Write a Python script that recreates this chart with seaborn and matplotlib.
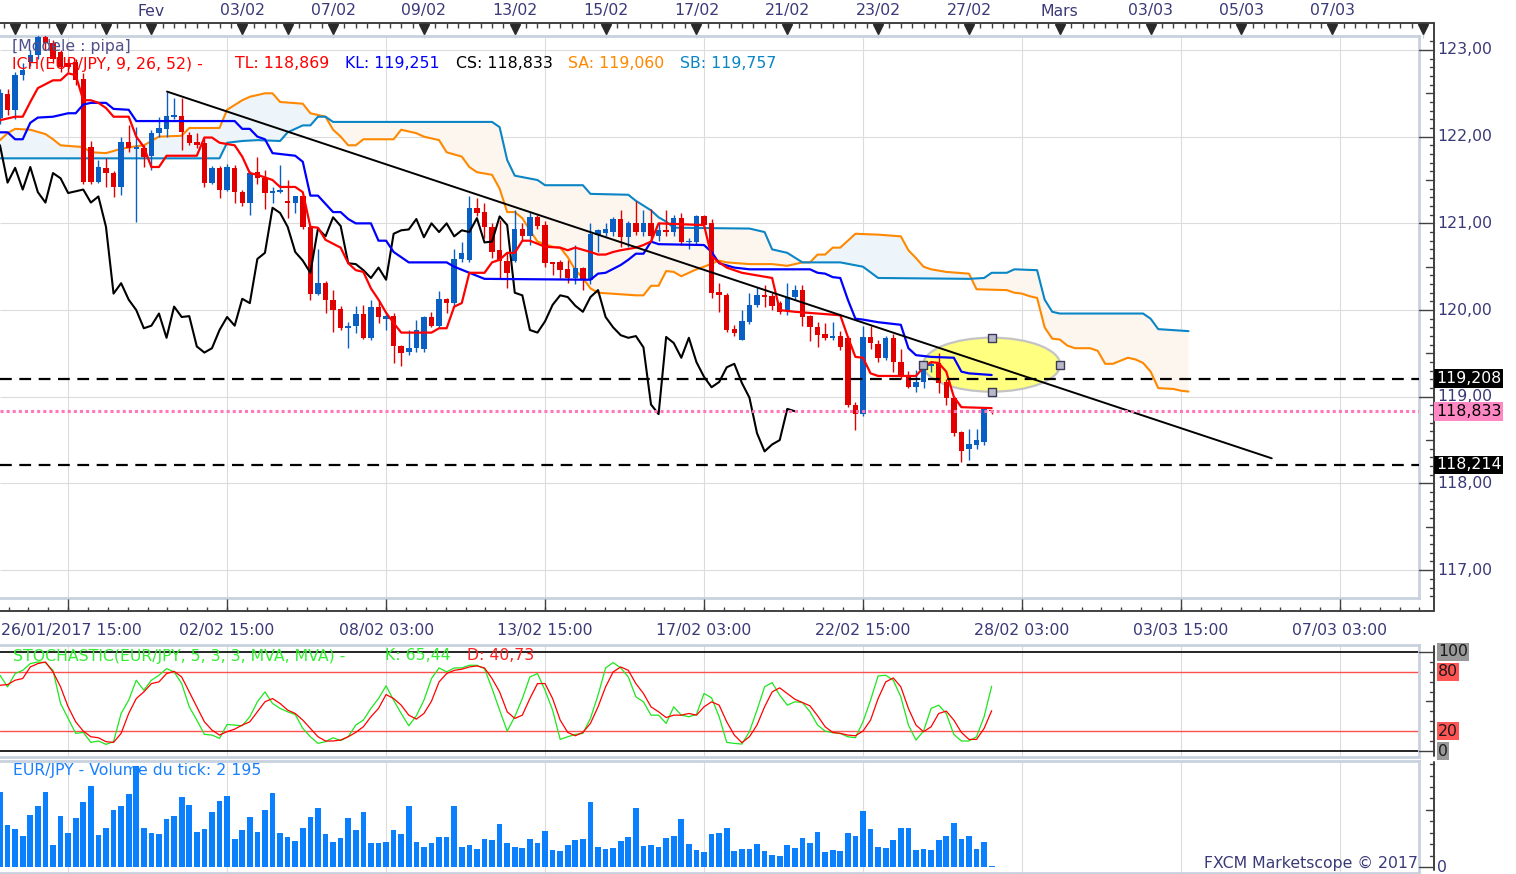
import numpy as np
import matplotlib
matplotlib.use('Agg')
import matplotlib.pyplot as plt
import seaborn as sns
from matplotlib.patches import Ellipse
from matplotlib.transforms import blended_transform_factory

# ---- données (EUR/JPY, bougies 4h) ----
bar_open = [122.22, 122.49, 122.31, 122.71, 122.86, 122.94, 123.15, 123.08, 122.98, 122.85,
            122.86, 122.67, 121.88, 121.48, 121.64, 121.58, 121.42, 121.94, 121.86, 121.87,
            121.78, 122.04, 122.09, 122.23, 122.24, 122.02, 121.94, 121.93, 121.47, 121.64,
            121.39, 121.64, 121.36, 121.24, 121.59, 121.52, 121.35, 121.36, 121.25, 121.24,
            121.31, 120.96, 120.19, 120.31, 120.12, 120.01, 119.79, 119.82, 119.96, 119.68,
            120.03, 119.90, 119.93, 119.58, 119.52, 119.56, 119.55, 119.92, 119.82, 120.13,
            120.08, 120.59, 120.58, 121.18, 121.13, 120.96, 120.69, 120.57, 120.57, 120.94,
            120.85, 121.07, 120.98, 120.55, 120.55, 120.47, 120.37, 120.48, 120.35, 120.87,
            120.89, 120.90, 121.05, 120.84, 121.00, 120.90, 121.00, 120.85, 120.92, 120.90,
            121.06, 120.78, 120.78, 121.08, 121.00, 120.21, 120.17, 119.78, 119.66, 119.86,
            120.06, 120.17, 120.16, 120.08, 119.99, 120.15, 120.23, 119.93, 119.81, 119.72,
            119.68, 119.70, 119.68, 118.91, 118.80, 119.69, 119.61, 119.45, 119.68, 119.40,
            119.25, 119.11, 119.17, 119.35, 119.39, 119.17, 118.99, 118.59, 118.40, 118.44,
            118.48, 118.84]
bar_high = [122.55, 122.55, 122.75, 122.85, 123.00, 123.20, 123.20, 123.12, 123.00, 122.90,
            122.90, 122.73, 121.95, 121.73, 121.75, 121.60, 122.00, 122.13, 122.11, 121.90,
            122.08, 122.23, 122.52, 122.45, 122.45, 122.05, 122.04, 121.99, 121.66, 121.66,
            121.68, 121.67, 121.38, 121.60, 121.77, 121.62, 121.42, 121.67, 121.50, 121.31,
            121.33, 120.98, 120.70, 120.33, 120.23, 120.05, 119.86, 120.05, 120.06, 120.12,
            120.10, 119.98, 119.97, 119.60, 119.77, 119.88, 119.93, 119.98, 120.22, 120.14,
            120.71, 120.79, 121.32, 121.29, 121.24, 121.00, 121.04, 120.67, 121.15, 121.00,
            121.13, 121.10, 121.03, 120.56, 120.58, 120.58, 120.75, 120.50, 121.00, 120.94,
            121.00, 121.07, 121.15, 121.03, 121.26, 121.15, 121.16, 121.00, 121.15, 121.10,
            121.12, 120.83, 121.10, 121.10, 121.05, 120.31, 120.20, 119.83, 120.00, 120.20,
            120.27, 120.29, 120.20, 120.10, 120.31, 120.29, 120.29, 119.94, 119.86, 119.85,
            119.86, 119.76, 119.70, 118.94, 119.82, 119.82, 119.65, 119.70, 119.72, 119.55,
            119.30, 119.31, 119.40, 119.40, 119.50, 119.20, 119.00, 118.60, 118.63, 118.63,
            118.88, 118.85]
bar_low = [122.15, 122.25, 122.20, 122.65, 122.82, 122.90, 123.00, 122.85, 122.75, 122.75,
           122.60, 121.45, 121.45, 121.47, 121.42, 121.30, 121.33, 121.82, 121.02, 121.65,
           121.62, 122.00, 122.00, 122.20, 121.85, 121.90, 121.87, 121.42, 121.45, 121.29,
           121.37, 121.24, 121.20, 121.10, 121.45, 121.17, 121.24, 121.35, 121.06, 121.12,
           120.93, 120.12, 120.17, 119.97, 119.75, 119.77, 119.56, 119.73, 119.67, 119.66,
           119.85, 119.77, 119.39, 119.36, 119.48, 119.52, 119.52, 119.80, 119.79, 119.97,
           120.05, 120.55, 120.55, 121.08, 120.83, 120.60, 120.36, 120.25, 120.55, 120.80,
           120.75, 120.93, 120.50, 120.40, 120.37, 120.31, 120.30, 120.23, 120.30, 120.67,
           120.85, 120.85, 120.73, 120.73, 120.87, 120.85, 120.80, 120.80, 120.85, 120.85,
           120.75, 120.70, 120.75, 120.95, 120.14, 119.98, 119.75, 119.70, 119.65, 119.84,
           120.03, 120.03, 120.00, 119.96, 119.94, 120.12, 119.82, 119.64, 119.57, 119.66,
           119.66, 119.54, 118.88, 118.62, 118.78, 119.55, 119.40, 119.42, 119.28, 119.20,
           119.10, 119.06, 119.10, 119.29, 119.04, 118.91, 118.55, 118.25, 118.27, 118.40,
           118.44, 118.80]
bar_close = [122.50, 122.31, 122.71, 122.77, 122.94, 123.15, 123.08, 122.90, 122.80, 122.80,
             122.65, 121.48, 121.48, 121.65, 121.58, 121.42, 121.94, 121.87, 121.88, 121.77,
             122.04, 122.10, 122.24, 122.25, 122.05, 121.93, 121.90, 121.47, 121.64, 121.39,
             121.65, 121.36, 121.24, 121.58, 121.52, 121.35, 121.37, 121.39, 121.24, 121.31,
             120.96, 120.19, 120.31, 120.12, 120.00, 119.79, 119.82, 119.96, 119.68, 120.04,
             119.92, 119.93, 119.58, 119.51, 119.56, 119.77, 119.92, 119.82, 120.13, 120.08,
             120.59, 120.66, 121.18, 121.12, 120.96, 120.67, 120.57, 120.43, 120.94, 120.85,
             121.07, 120.97, 120.54, 120.53, 120.46, 120.37, 120.49, 120.35, 120.88, 120.92,
             120.93, 121.05, 120.84, 121.00, 120.90, 121.00, 120.85, 120.92, 120.90, 121.06,
             120.78, 120.79, 121.08, 120.98, 120.20, 120.17, 119.77, 119.74, 119.87, 120.06,
             120.17, 120.15, 120.05, 119.98, 120.15, 120.23, 119.92, 119.80, 119.71, 119.68,
             119.70, 119.57, 118.91, 118.80, 119.69, 119.62, 119.45, 119.68, 119.40, 119.23,
             119.11, 119.17, 119.34, 119.38, 119.16, 118.99, 118.58, 118.37, 118.45, 118.50,
             118.86, 118.833]

# Ichimoku : sommets des lignes (indice de bougie, prix)
tenkan_x = [0, 2, 3, 4, 5, 7, 8, 9, 10, 11, 12, 13, 14, 15, 17, 18, 19, 20, 21, 22, 26, 27, 28, 29, 31,
            32, 33, 34, 36, 37, 39, 40, 41, 42, 43, 45, 46, 47, 48, 49, 50, 51, 52, 53, 57, 58, 59, 60,
            61, 62, 64, 65, 66, 67, 68, 69, 70, 72, 74, 75, 76, 78, 79, 80, 81, 82, 84, 85, 86, 87, 93,
            94, 95, 96, 98, 102, 103, 105, 108, 111, 112, 113, 114, 115, 116, 121, 122, 123, 124, 125,
            126, 127, 131]
tenkan_y = [122.19, 122.23, 122.23, 122.40, 122.56, 122.65, 122.65, 122.73, 122.71, 122.42,
            122.42, 122.39, 122.33, 122.23, 122.23, 122.00, 121.88, 121.65, 121.65, 121.78,
            121.78, 121.99, 121.99, 121.93, 121.90, 121.77, 121.58, 121.56, 121.50, 121.42,
            121.42, 121.36, 120.96, 120.95, 120.81, 120.72, 120.54, 120.46, 120.44, 120.25,
            120.12, 119.97, 119.85, 119.74, 119.74, 119.79, 119.79, 120.04, 120.08, 120.43,
            120.43, 120.55, 120.58, 120.66, 120.66, 120.80, 120.80, 120.73, 120.72, 120.69,
            120.72, 120.67, 120.64, 120.64, 120.67, 120.69, 120.72, 120.75, 120.79, 121.00,
            120.98, 120.62, 120.55, 120.49, 120.43, 120.37, 120.00, 119.98, 119.96, 119.94,
            119.69, 119.46, 119.45, 119.27, 119.24, 119.24, 119.34, 119.40, 119.39, 119.29,
            119.00, 118.88, 118.869]
kijun_x = [0, 1, 2, 3, 4, 5, 7, 8, 9, 10, 11, 12, 14, 15, 17, 18, 31, 32, 33, 34, 35, 36, 39, 40, 41,
           42, 44, 45, 46, 47, 49, 50, 51, 52, 54, 59, 60, 62, 64, 78, 79, 80, 82, 83, 84, 85, 86, 87,
           93, 94, 95, 97, 99, 107, 108, 109, 110, 111, 112, 113, 114, 116, 119, 120, 121, 123, 126,
           127, 128, 131]
kijun_y = [122.05, 122.05, 121.97, 121.97, 122.16, 122.22, 122.23, 122.25, 122.27, 122.27,
           122.37, 122.39, 122.39, 122.32, 122.31, 122.18, 122.18, 122.09, 122.09, 122.00,
           121.97, 121.81, 121.78, 121.71, 121.32, 121.32, 121.13, 121.13, 121.05, 121.00,
           121.00, 120.80, 120.80, 120.67, 120.55, 120.55, 120.50, 120.43, 120.36, 120.35,
           120.42, 120.43, 120.52, 120.58, 120.65, 120.65, 120.79, 120.76, 120.75, 120.67,
           120.54, 120.49, 120.47, 120.47, 120.43, 120.42, 120.38, 120.37, 120.12, 119.90,
           119.89, 119.86, 119.83, 119.56, 119.48, 119.46, 119.45, 119.29, 119.27, 119.251]
ssa_x = [0, 1, 2, 4, 6, 7, 8, 11, 12, 14, 16, 18, 19, 21, 24, 25, 29, 30, 32, 33, 34, 35, 36, 37, 40,
         41, 43, 44, 45, 46, 47, 48, 52, 53, 55, 56, 58, 59, 61, 62, 63, 65, 66, 67, 68, 69, 70, 71,
         73, 74, 75, 76, 77, 78, 79, 84, 85, 86, 87, 88, 89, 90, 92, 93, 95, 96, 99, 102, 104, 106,
         107, 108, 109, 110, 111, 113, 116, 119, 120, 121, 122, 123, 125, 128, 129, 133, 134, 135,
         136, 137, 138, 139, 140, 141, 142, 144, 145, 146, 147, 149, 150, 151, 152, 153, 155, 156, 157]
ssa_y = [121.96, 122.04, 122.09, 122.08, 122.03, 121.97, 121.90, 121.88, 121.82, 121.81,
         121.86, 121.89, 121.90, 122.00, 122.01, 122.10, 122.10, 122.31, 122.42, 122.46,
         122.48, 122.50, 122.50, 122.40, 122.38, 122.27, 122.23, 122.08, 122.00, 121.90,
         121.90, 121.97, 121.97, 122.08, 122.04, 122.00, 121.96, 121.82, 121.77, 121.65,
         121.59, 121.56, 121.40, 121.13, 121.13, 121.06, 120.92, 120.79, 120.73, 120.72,
         120.61, 120.46, 120.37, 120.25, 120.20, 120.17, 120.17, 120.28, 120.28, 120.45,
         120.44, 120.39, 120.47, 120.50, 120.57, 120.55, 120.53, 120.53, 120.51, 120.55,
         120.55, 120.64, 120.64, 120.72, 120.72, 120.88, 120.87, 120.85, 120.69, 120.60,
         120.50, 120.47, 120.44, 120.42, 120.24, 120.23, 120.20, 120.19, 120.16, 120.14,
         119.80, 119.67, 119.66, 119.59, 119.56, 119.56, 119.53, 119.38, 119.38, 119.45,
         119.43, 119.39, 119.29, 119.10, 119.09, 119.07, 119.06]
ssb_x = [0, 29, 30, 32, 34, 37, 38, 40, 41, 42, 43, 44, 65, 66, 67, 68, 71, 72, 77, 78, 83, 84, 86,
         87, 88, 89, 99, 101, 102, 104, 106, 111, 114, 116, 128, 130, 131, 133, 134, 137, 138, 139,
         140, 151, 152, 153, 157]
ssb_y = [121.75, 121.75, 121.93, 121.95, 121.96, 121.95, 122.05, 122.13, 122.13, 122.23,
         122.23, 122.17, 122.17, 122.11, 121.73, 121.55, 121.50, 121.44, 121.44, 121.34,
         121.33, 121.26, 121.15, 121.07, 121.02, 120.95, 120.94, 120.90, 120.70, 120.66,
         120.55, 120.55, 120.50, 120.37, 120.36, 120.37, 120.43, 120.43, 120.47, 120.46,
         120.12, 119.98, 119.96, 119.96, 119.90, 119.78, 119.757]

# tracés manuels
trend_x = [22.06, 168.0]
trend_y = [122.52, 118.29]
level_high = 119.208
level_low = 118.214
ellipse_center = (131.0, 119.37)
ellipse_size = (18.1, 0.623)

# stochastique et volumes
stoch_k = [76.5, 64.8, 78.2, 81.5, 88.3, 89.9, 89.3, 81.5, 48.0, 32.9,
           17.8, 18.8, 8.7, 10.1, 6.7, 9.4, 37.9, 51.3, 71.5, 61.4,
           71.5, 76.5, 83.2, 79.9, 68.1, 44.6, 31.2, 16.8, 16.1, 12.8,
           26.8, 26.2, 25.5, 34.6, 49.7, 59.7, 48.0, 43.0, 39.6, 36.9,
           22.8, 14.4, 7.7, 9.4, 13.4, 10.5, 14.4, 26.2, 31.2, 43.0,
           53.0, 65.8, 51.3, 37.9, 25.5, 35.6, 51.3, 73.2, 83.9, 79.9,
           83.9, 83.9, 86.6, 86.6, 83.2, 63.1, 41.3, 20.1, 34.6, 53.0,
           74.8, 78.2, 61.4, 41.3, 11.7, 14.4, 16.8, 17.8, 32.9, 56.4,
           83.9, 89.3, 83.9, 74.8, 54.7, 49.7, 36.2, 36.2, 27.9, 44.6,
           36.2, 34.6, 36.9, 58.1, 53.7, 34.6, 8.7, 7.7, 7.0, 19.5,
           41.3, 64.8, 69.1, 56.4, 46.3, 49.7, 49.0, 39.6, 26.2, 20.1,
           18.5, 17.8, 14.4, 13.4, 29.5, 51.3, 75.8, 76.5, 71.5, 54.7,
           26.2, 11.1, 20.1, 43.0, 46.3, 37.9, 16.8, 10.1, 10.1, 14.4,
           34.6, 65.44]
stoch_d = [66.4, 67.1, 71.5, 73.2, 84.9, 88.3, 89.9, 79.9, 64.8, 44.6,
           29.5, 20.1, 14.4, 13.4, 9.4, 8.7, 17.8, 37.9, 53.0, 59.7,
           68.1, 69.8, 78.2, 80.5, 74.8, 59.7, 44.6, 29.5, 21.1, 16.1,
           19.5, 22.1, 26.2, 29.5, 39.6, 49.7, 53.0, 48.0, 41.3, 37.9,
           31.2, 22.8, 14.4, 10.1, 10.1, 11.1, 14.4, 18.8, 24.5, 34.6,
           43.0, 57.0, 53.0, 46.3, 36.2, 32.2, 37.9, 50.3, 69.8, 78.2,
           81.5, 82.6, 84.9, 85.9, 83.9, 73.2, 59.7, 39.6, 32.9, 36.2,
           53.0, 68.1, 68.1, 53.0, 31.2, 18.8, 15.4, 18.8, 27.9, 44.6,
           64.8, 79.9, 84.9, 81.5, 68.1, 58.1, 44.6, 39.6, 33.8, 36.2,
           36.2, 37.9, 36.2, 44.6, 49.7, 46.3, 29.5, 16.1, 8.4, 14.4,
           26.2, 44.6, 59.7, 63.8, 58.1, 52.3, 49.0, 45.6, 35.6, 24.5,
           18.8, 17.8, 16.1, 15.4, 20.1, 31.2, 53.0, 69.8, 73.8, 64.8,
           43.0, 26.2, 19.5, 24.5, 37.9, 40.3, 31.2, 18.8, 11.7, 11.7,
           22.8, 40.73]
volume = [157500, 87500, 79100, 64400, 108500, 127400, 157500, 45500, 106400, 70700,
          102200, 135800, 169400, 66500, 81200, 119000, 127400, 152600, 212100, 81200,
          70700, 68600, 100100, 106400, 146300, 129500, 72800, 79100, 114800, 137900,
          148400, 58100, 77000, 104300, 72800, 119000, 154700, 70700, 62300, 53900,
          81200, 104300, 123200, 68600, 51800, 60200, 102200, 77000, 114800, 49700,
          49700, 51800, 77000, 68600, 127400, 51800, 41300, 49700, 62300, 62300,
          127400, 41300, 45500, 37100, 58100, 56000, 89600, 49700, 41300, 39200,
          58100, 49700, 74900, 35000, 32900, 45500, 56000, 58100, 135800, 41300,
          37100, 39200, 53900, 62300, 123200, 43400, 45500, 41300, 60200, 64400,
          100100, 47600, 35000, 30800, 68600, 70700, 81200, 32900, 37100, 37100,
          47600, 32900, 24500, 22400, 45500, 39200, 60200, 49700, 72800, 30800,
          35000, 32900, 70700, 64400, 116900, 79100, 41300, 39200, 56000, 81200,
          81200, 35000, 37100, 35000, 56000, 64400, 91700, 58100, 64400, 37100,
          51800, 2195]

# axes de temps
top_marks = [2, 8, 14, 20, 32, 38, 44, 56, 68, 80, 92, 104, 116, 128, 140, 152, 164, 176, 188]
top_labels = {20: 'Fev', 32: '03/02', 44: '07/02', 56: '09/02', 68: '13/02', 80: '15/02',
              92: '17/02', 104: '21/02', 116: '23/02', 128: '27/02', 140: 'Mars',
              152: '03/03', 164: '05/03', 176: '07/03'}
bottom_marks = [9, 30, 51, 72, 93, 114, 135, 156, 177]
bottom_labels = ['26/01/2017 15:00', '02/02 15:00', '08/02 03:00', '13/02 15:00', '17/02 03:00',
                 '22/02 15:00', '28/02 03:00', '03/03 15:00', '07/03 03:00']

# ---- style ----
sns.set_theme(style='white')
plt.rcParams['font.family'] = ['DejaVu Sans']

W, H = 1516, 874
FS = 11.3
UP = '#0a5fc4'
DOWN = '#e00000'
TXT = '#3a3a78'
GRID = '#dcdcdc'
FRAME = '#c8d2de'
AXLINE = '#404040'
ORANGE = '#ff8800'
TEAL = '#0a85c5'

def fmt(v, d):
    return f"{v:.{d}f}".replace('.', ',')

def px_rect(x0, y0, x1, y1):
    return [x0 / W, 1 - y1 / H, (x1 - x0) / W, (y1 - y0) / H]

fig = plt.figure(figsize=(W / 100, H / 100), dpi=100, facecolor='white')
ax = fig.add_axes(px_rect(0, 36, 1419, 598))
axs = fig.add_axes(px_rect(0, 645, 1419, 757))
axv = fig.add_axes(px_rect(0, 761, 1419, 873))
ov = fig.add_axes([0, 0, 1, 1], zorder=10)
ov.set_autoscale_on(False)
ov.set_xlim(0, W)
ov.set_ylim(H, 0)
ov.axis('off')

XMAX = 1419 / 7.57
idx = np.arange(len(bar_close))
o = np.array(bar_open)
h = np.array(bar_high)
l = np.array(bar_low)
c = np.array(bar_close)

for a in (ax, axs, axv):
    a.set_xlim(0, XMAX)
    a.set_facecolor('white')
    a.spines['left'].set_visible(False)
    for s in ('top', 'right', 'bottom'):
        a.spines[s].set_color(FRAME)
        a.spines[s].set_linewidth(2)

ax.set_ylim(116.679, 123.161)
axs.set_ylim(-6.06, 107.07)
axv.set_ylim(-12600, 222600)

# ---- panneau principal ----
ax.hlines(range(117, 124), 0, XMAX, color=GRID, lw=0.8, zorder=0)
ax.vlines(bottom_marks, 116.679, 123.161, color=GRID, lw=0.8, zorder=0)

# nuage
gx = np.linspace(0, ssa_x[-1], 3000)
ga = np.interp(gx, ssa_x, ssa_y)
gb = np.interp(gx, ssb_x, ssb_y)
ax.fill_between(gx, ga, gb, where=ga >= gb, color='#eef5fa', interpolate=True, lw=0, zorder=1)
ax.fill_between(gx, ga, gb, where=ga < gb, color='#fdf6ee', interpolate=True, lw=0, zorder=1)
sns.lineplot(x=ssa_x, y=ssa_y, color=ORANGE, linewidth=1.5, estimator=None, sort=False, ax=ax, zorder=2)
sns.lineplot(x=ssb_x, y=ssb_y, color=TEAL, linewidth=1.5, estimator=None, sort=False, ax=ax, zorder=2)

ell = Ellipse(ellipse_center, ellipse_size[0], ellipse_size[1], fc='#ffff80', ec='#c4c4c4',
              lw=1.6, zorder=2.5)
ax.add_patch(ell)

# bougies
up = c >= o
cols = np.where(up, UP, DOWN)
ax.vlines(idx, l, h, colors=cols, lw=1, zorder=3)
ax.bar(idx, np.maximum(np.abs(c - o), 0.014), bottom=np.minimum(o, c), width=0.72,
       color=cols, linewidth=0, zorder=3.1)

sns.lineplot(x=idx - 26, y=c, color='black', linewidth=1.5, estimator=None, sort=False, ax=ax, zorder=4)
sns.lineplot(x=kijun_x, y=kijun_y, color='#0000ff', linewidth=1.6, estimator=None, sort=False, ax=ax, zorder=4)
sns.lineplot(x=tenkan_x, y=tenkan_y, color='#ff0000', linewidth=1.6, estimator=None, sort=False, ax=ax, zorder=4.1)

ax.plot(trend_x, trend_y, color='black', lw=1.4, zorder=5)
ax.axhline(level_high, color='black', lw=1.6, ls=(0, (5.3, 3.4)), zorder=5)
ax.axhline(level_low, color='black', lw=1.6, ls=(0, (5.3, 3.4)), zorder=5)
ax.axhline(c[-1], color='#ff77bb', lw=2.2, ls=(0, (1, 1)), zorder=5)

cx, cy = ellipse_center
ew, eh = ellipse_size
ax.scatter([cx, cx + ew / 2, cx, cx - ew / 2], [cy + eh / 2, cy, cy - eh / 2, cy], marker='s', s=30,
           facecolor='#b8b8c8', edgecolor='#3a3a5a', linewidth=1, zorder=6)

ax.set_xlim(0, XMAX)
ax.set_ylim(116.679, 123.161)

# ---- stochastique ----
axs.vlines(bottom_marks, -6.06, 107.07, color=GRID, lw=0.8, zorder=0)
axs.axhline(100, color='black', lw=1.2, zorder=1)
axs.axhline(0, color='black', lw=1.2, zorder=1)
axs.axhline(80, color='#ff5050', lw=1, zorder=1)
axs.axhline(20, color='#ff5050', lw=1, zorder=1)
sns.lineplot(x=idx, y=stoch_k, color='#1ee61e', linewidth=0.9, estimator=None, sort=False, ax=axs, zorder=3)
sns.lineplot(x=idx, y=stoch_d, color='#ff0000', linewidth=0.9, estimator=None, sort=False, ax=axs, zorder=3)
axs.set_xlim(0, XMAX)
axs.set_ylim(-6.06, 107.07)

# ---- volumes ----
axv.vlines(bottom_marks, -12600, 222600, color=GRID, lw=0.8, zorder=0)
sns.barplot(x=idx, y=volume, native_scale=True, width=0.75, color='#0a80ff', saturation=1,
            errorbar=None, linewidth=0, ax=axv, zorder=2)
axv.set_xlim(0, XMAX)
axv.set_ylim(-12600, 222600)

for a in (ax, axs, axv):
    a.set_xticks([])
    a.set_yticks([])
    a.set_xlabel('')
    a.set_ylabel('')

# ---- axes extérieurs ----
top_tr = blended_transform_factory(ax.transData, ov.transData)
bot_tr = top_tr
r_main = blended_transform_factory(ov.transData, ax.transData)
r_sto = blended_transform_factory(ov.transData, axs.transData)
r_vol = blended_transform_factory(ov.transData, axv.transData)

ov.plot([0, 1434], [23, 23], color=AXLINE, lw=1.4)
ov.plot([1434, 1434], [23, 611], color=AXLINE, lw=1.4)
ov.plot([0, 1434], [611, 611], color=AXLINE, lw=1.4)
ov.plot([1434, 1434], [646, 756], color=AXLINE, lw=1.4)
ov.plot([1434, 1434], [762, 870], color=AXLINE, lw=1.4)

minor_top = np.arange(0.5, 189.5, 1.5)
ov.vlines(minor_top, 23, 28, transform=top_tr, color=AXLINE, lw=1)
ov.vlines(top_marks, 33, 38, transform=top_tr, color='#c8d2de', lw=1)
ov.plot(top_marks, [28.5] * len(top_marks), 'v', ms=7, color='#2a2a2a', transform=top_tr, clip_on=False)
for b, t in top_labels.items():
    ov.text(b, 11, t, transform=top_tr, ha='center', va='center', fontsize=FS, color=TXT)

minor_bot = 9 + 2.625 * np.arange(-3, 69)
minor_bot = minor_bot[minor_bot <= 189.4]
ov.vlines(minor_bot, 607, 611, transform=bot_tr, color=AXLINE, lw=1)
ov.vlines(bottom_marks, 599, 611, transform=bot_tr, color=AXLINE, lw=1)
for k, (b, t) in enumerate(zip(bottom_marks, bottom_labels)):
    if k == 0:
        ov.text(0.1, 630, t, transform=bot_tr, ha='left', va='center', fontsize=FS, color=TXT)
    else:
        ov.text(b, 630, t, transform=bot_tr, ha='center', va='center', fontsize=FS, color=TXT)

# échelle de prix
for p in np.arange(1167, 1232) / 10:
    if abs(p - round(p)) < 1e-6:
        x0 = 1419
    elif abs(p * 2 - round(p * 2)) < 1e-6:
        x0 = 1426
    else:
        x0 = 1430
    ov.plot([x0, 1434], [p, p], color=AXLINE, lw=1, transform=r_main)
for p in range(117, 124):
    ov.text(1437, p, f"{p},00", transform=r_main, ha='left', va='center', fontsize=FS, color=TXT,
            zorder=1)
for lv, fc, tc in [(level_high, 'black', 'white'), (c[-1], '#ff88c4', 'black'),
                   (level_low, 'black', 'white')]:
    ov.text(1436, lv, fmt(lv, 3), transform=r_main, ha='left', va='center', fontsize=FS, color=tc,
            zorder=3, bbox=dict(boxstyle='square,pad=0.12', fc=fc, ec='none'))

# échelle stochastique
for v in range(0, 101, 10):
    x0 = 1419 if v in (0, 100) else (1426 if v == 50 else 1430)
    ov.plot([x0, 1434], [v, v], color=AXLINE, lw=1, transform=r_sto)
for v, fc in [(100, '#999999'), (80, '#ff5555'), (20, '#ff5555'), (0, '#999999')]:
    ov.text(1438, v, str(v), transform=r_sto, ha='left', va='center', fontsize=FS, color='#1a1a1a',
            bbox=dict(boxstyle='square,pad=0.08', fc=fc, ec='none'))

# échelle volumes
for v in range(0, 216001, 24000):
    x0 = 1419 if v == 0 else (1426 if v == 120000 else 1430)
    ov.plot([x0, 1434], [v, v], color=AXLINE, lw=1, transform=r_vol)
ov.text(1437, 868, '0', ha='left', va='center', fontsize=FS, color=TXT)

# ---- légendes ----
ov.text(12, 46, '[Modele : pipa]', ha='left', va='center', fontsize=FS, color='#50508a')
ov.text(12, 64, 'ICH(EUR/JPY, 9, 26, 52) -', ha='left', va='center', fontsize=FS, color='#ff0000')
ov.text(235, 64, f"TL: {fmt(tenkan_y[-1], 3)}", ha='left', va='center', fontsize=FS, color='#ff0000')
ov.text(345, 64, f"KL: {fmt(kijun_y[-1], 3)}", ha='left', va='center', fontsize=FS, color='#0000ff')
ov.text(456, 64, f"CS: {fmt(c[-1], 3)}", ha='left', va='center', fontsize=FS, color='black')
ov.text(568, 64, f"SA: {fmt(ssa_y[-1], 3)}", ha='left', va='center', fontsize=FS, color=ORANGE)
ov.text(680, 64, f"SB: {fmt(ssb_y[-1], 3)}", ha='left', va='center', fontsize=FS, color=TEAL)

ov.text(13, 656, 'STOCHASTIC(EUR/JPY, 5, 3, 3, MVA, MVA) -', ha='left', va='center', fontsize=FS,
        color='#33ee33')
ov.text(385, 656, f"K: {fmt(stoch_k[-1], 2)}", ha='left', va='center', fontsize=FS, color='#33ee33')
ov.text(467, 656, f"D: {fmt(stoch_d[-1], 2)}", ha='left', va='center', fontsize=FS, color='#ff2020')

ov.text(13, 771, f"EUR/JPY - Volume du tick: {volume[-1]:,}".replace(',', ' '), ha='left',
        va='center', fontsize=FS, color='#1a80ff')
ov.text(1418, 863, 'FXCM Marketscope © 2017', ha='right', va='center', fontsize=FS, color=TXT)

fig.savefig('out.png', dpi=100, facecolor='white')
